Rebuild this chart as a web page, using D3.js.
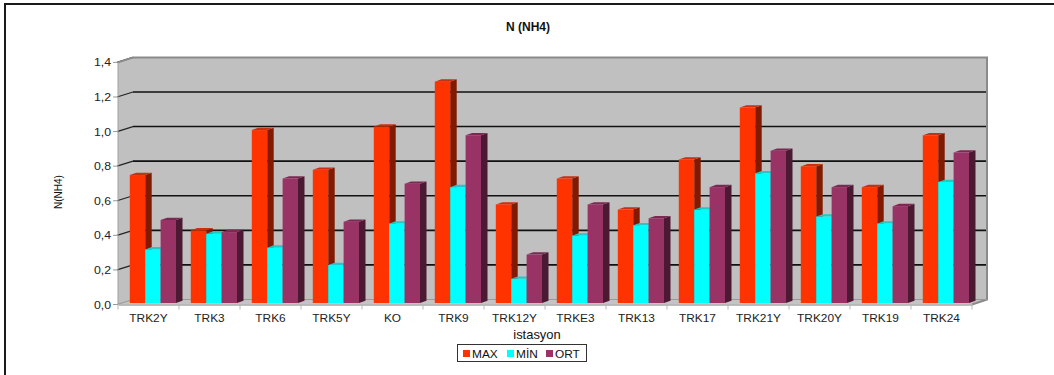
<!DOCTYPE html>
<html>
<head>
<meta charset="utf-8">
<script src="https://cdn.jsdelivr.net/npm/d3@7"></script>
<style>
  html, body { margin: 0; padding: 0; background: #fff; }
  svg { display: block; font-family: "Liberation Sans", Arial, sans-serif; }
</style>
</head>
<body>
<svg id="chart" width="1054" height="375"></svg>
<script>
// Station names along the x axis
const categories = ["TRK2Y", "TRK3", "TRK6", "TRK5Y", "KO", "TRK9", "TRK12Y",
                    "TRKE3", "TRK13", "TRK17", "TRK21Y", "TRK20Y", "TRK19", "TRK24"];
// N (NH4) values per station
const maxValues = [0.74, 0.42, 1.00, 0.77, 1.02, 1.28, 0.57, 0.72, 0.54, 0.83, 1.13, 0.79, 0.67, 0.97];
const minValues = [0.31, 0.40, 0.32, 0.22, 0.46, 0.67, 0.14, 0.39, 0.45, 0.54, 0.75, 0.50, 0.46, 0.70];
const ortValues = [0.48, 0.41, 0.72, 0.47, 0.69, 0.97, 0.28, 0.57, 0.49, 0.67, 0.88, 0.67, 0.56, 0.87];
const seriesNames = ["MAX", "MİN", "ORT"];
const yTicks = [0, 0.2, 0.4, 0.6, 0.8, 1.0, 1.2, 1.4];

const svg = d3.select("#chart");

// Colours for each series: front, side, top
const palette = [
  { front: "#ff3300", side: "#801a00", top: "#c83010" },
  { front: "#00ffff", side: "#008080", top: "#22c8c8" },
  { front: "#993366", side: "#4c1933", top: "#7a2952" }
];

// Plot frame (front plane) and 3D depth offset of the walls
const plotLeft = 118, plotRight = 972, plotBottom = 304.5, plotTop = 62.4;
const depthX = 15, depthY = -5;

const x = d3.scaleBand().domain(categories).range([plotLeft, plotRight]).paddingInner(0).paddingOuter(0);
const xs = d3.scaleBand().domain(seriesNames).range([11.8, 58]).padding(0);
const y = d3.scaleLinear().domain([0, 1.4]).range([plotBottom, plotTop]);

// Outer chart border (top and left edges)
svg.append("path")
  .attr("d", `M5,375 L5,4 L1054,4`)
  .attr("fill", "none").attr("stroke", "#1a1a1a").attr("stroke-width", 2);

// Title
svg.append("text")
  .attr("x", 528).attr("y", 30.5)
  .attr("text-anchor", "middle")
  .attr("font-size", 12).attr("font-weight", "bold").attr("fill", "#111")
  .text("N (NH4)");

const poly = pts => "M" + pts.map(p => p.join(",")).join("L") + "Z";

// Back wall
svg.append("path")
  .attr("d", poly([[plotLeft + depthX, plotTop + depthY], [plotRight + depthX, plotTop + depthY],
                   [plotRight + depthX, plotBottom + depthY], [plotLeft + depthX, plotBottom + depthY]]))
  .attr("fill", "#c0c0c0");
// Left side wall
svg.append("path")
  .attr("d", poly([[plotLeft, plotTop], [plotLeft + depthX, plotTop + depthY],
                   [plotLeft + depthX, plotBottom + depthY], [plotLeft, plotBottom]]))
  .attr("fill", "#c0c0c0");
// Floor
svg.append("path")
  .attr("d", poly([[plotLeft, plotBottom], [plotRight, plotBottom],
                   [plotRight + depthX, plotBottom + depthY], [plotLeft + depthX, plotBottom + depthY]]))
  .attr("fill", "#c4c4c4");

// Gridlines on the back wall plus their diagonals on the side wall
const grid = svg.append("g");
yTicks.forEach(v => {
  const yy = y(v);
  if (v > 0 && v < 1.4) {
    grid.append("line")
      .attr("x1", plotLeft + depthX).attr("x2", plotRight + depthX)
      .attr("y1", yy + depthY).attr("y2", yy + depthY)
      .attr("stroke", "#111").attr("stroke-width", 1.6);
  }
  grid.append("line")
    .attr("x1", plotLeft - 1).attr("y1", yy)
    .attr("x2", plotLeft + depthX).attr("y2", yy + depthY)
    .attr("stroke", v === 0 ? "#999" : "#222").attr("stroke-width", 1.2);
  grid.append("line")
    .attr("x1", plotLeft - 5).attr("x2", plotLeft).attr("y1", yy).attr("y2", yy)
    .attr("stroke", "#999").attr("stroke-width", 1);
});
// Wall edges
svg.append("path")
  .attr("d", `M${plotLeft},${plotTop} L${plotLeft + depthX},${plotTop + depthY} L${plotRight + depthX},${plotTop + depthY} L${plotRight + depthX},${plotBottom + depthY} L${plotRight},${plotBottom}`)
  .attr("fill", "none").attr("stroke", "#8a8a8a").attr("stroke-width", 2);
svg.append("line")
  .attr("x1", plotLeft + depthX).attr("x2", plotRight + depthX)
  .attr("y1", plotBottom + depthY).attr("y2", plotBottom + depthY)
  .attr("stroke", "#999").attr("stroke-width", 1);

// Y axis (front edge of the side wall)
svg.append("line")
  .attr("x1", plotLeft).attr("x2", plotLeft).attr("y1", plotTop).attr("y2", plotBottom)
  .attr("stroke", "#a0a0a0").attr("stroke-width", 1);

svg.append("g")
  .selectAll("text")
  .data(yTicks)
  .join("text")
  .attr("transform", d => `translate(111,${y(d) + 4}) scale(1.12,1)`)
  .attr("text-anchor", "end")
  .attr("font-size", 11).attr("fill", "#222")
  .text(d => d3.format(".1f")(d).replace(".", ","));

// X axis line and ticks
const xAxis = svg.append("g").attr("transform", `translate(0,${plotBottom})`)
  .call(d3.axisBottom(x).tickSize(0).tickFormat(""));
xAxis.select(".domain").attr("stroke", "#a8a8a8").attr("stroke-width", 1.5);
svg.append("g").selectAll("line")
  .data(categories.concat([null]))
  .join("line")
  .attr("x1", (d, i) => plotLeft + i * x.bandwidth())
  .attr("x2", (d, i) => plotLeft + i * x.bandwidth())
  .attr("y1", plotBottom).attr("y2", plotBottom + 5)
  .attr("stroke", "#b8b8b8").attr("stroke-width", 1);

svg.append("g").selectAll("text")
  .data(categories)
  .join("text")
  .attr("transform", d => `translate(${x(d) + x.bandwidth() / 2},322) scale(1.08,1)`)
  .attr("text-anchor", "middle")
  .attr("font-size", 11).attr("fill", "#222")
  .text(d => d);

// 3D columns
const barW = xs.bandwidth();
const bdx = 6.5, bdy = -2.3, baseShift = -1.5;
const seriesData = [maxValues, minValues, ortValues];
const bars = svg.append("g");
categories.forEach((cat, ci) => {
  seriesNames.forEach((name, si) => {
    const v = seriesData[si][ci];
    const x0 = x(cat) + xs(name);
    const x1 = x0 + barW;
    const yt = y(v) + baseShift;
    const yb = y(0) + baseShift;
    const c = palette[si];
    const g = bars.append("g");
    g.append("path")
      .attr("d", poly([[x1, yt], [x1 + bdx, yt + bdy], [x1 + bdx, yb + bdy], [x1, yb]]))
      .attr("fill", c.side);
    g.append("path")
      .attr("d", poly([[x0, yt], [x0 + bdx, yt + bdy], [x1 + bdx, yt + bdy], [x1, yt]]))
      .attr("fill", c.top);
    g.append("rect")
      .attr("x", x0).attr("y", yt)
      .attr("width", barW).attr("height", yb - yt)
      .attr("fill", c.front);
  });
});

// Axis titles
svg.append("text")
  .attr("transform", "translate(537,339) scale(1.08,1)")
  .attr("text-anchor", "middle")
  .attr("font-size", 12).attr("fill", "#111")
  .text("istasyon");

svg.append("text")
  .attr("transform", "translate(62,192) rotate(-90)")
  .attr("text-anchor", "middle")
  .attr("font-size", 10).attr("fill", "#111")
  .text("N(NH4)");

// Legend
const legend = svg.append("g");
legend.append("rect")
  .attr("x", 457.5).attr("y", 344.5).attr("width", 129).attr("height", 17)
  .attr("fill", "#fff").attr("stroke", "#333").attr("stroke-width", 1);
const legendX = [463, 507, 546];
seriesNames.forEach((name, i) => {
  legend.append("rect")
    .attr("x", legendX[i]).attr("y", 350).attr("width", 7).attr("height", 7)
    .attr("fill", palette[i].front);
  legend.append("text")
    .attr("transform", `translate(${legendX[i] + 9},357.5) scale(1.08,1)`)
    .attr("font-size", 11).attr("fill", "#111")
    .text(name);
});
</script>
</body>
</html>
